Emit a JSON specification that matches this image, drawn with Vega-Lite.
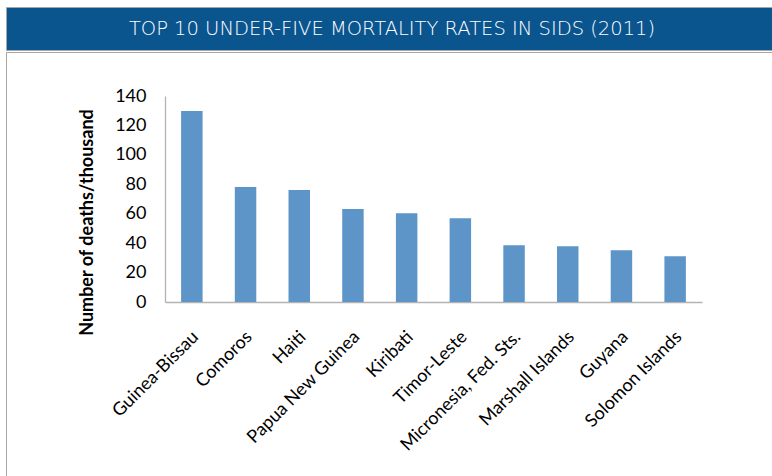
{
  "$schema": "https://vega.github.io/schema/vega-lite/v6.json",
  "autosize": {"type": "none"},
  "padding": {"left": 6, "top": 7, "right": 766, "bottom": 469},
  "background": "white",
  "spacing": 0,
  "config": {"font": "Lato", "concat": {"spacing": 0}},
  "vconcat": [
    {
      "width": 772,
      "height": 43,
      "view": {"fill": "#0b558f", "stroke": "#a6a6a6", "strokeWidth": 1},
      "data": {"values": [{"title": "TOP 10 UNDER-FIVE MORTALITY RATES IN SIDS (2011)"}]},
      "mark": {"type": "text", "color": "white", "font": "DejaVu Sans", "fontWeight": 300, "fontSize": 19.5},
      "encoding": {"text": {"field": "title", "type": "nominal"}}
    },
    {
      "width": 772,
      "height": 430,
      "view": {"stroke": "#a6a6a6", "strokeWidth": 1},
      "data": {
        "values": [
          {"country": "Guinea-Bissau", "rate": 129.8},
          {"country": "Comoros", "rate": 78.2},
          {"country": "Haiti", "rate": 76.1},
          {"country": "Papua New Guinea", "rate": 63.2},
          {"country": "Kiribati", "rate": 60.3},
          {"country": "Timor-Leste", "rate": 56.9},
          {"country": "Micronesia, Fed. Sts.", "rate": 38.5},
          {"country": "Marshall Islands", "rate": 37.9},
          {"country": "Guyana", "rate": 35.1},
          {"country": "Solomon Islands", "rate": 31.1}
        ]
      },
      "mark": {"type": "bar", "color": "#5e95c9"},
      "encoding": {
        "x": {
          "field": "country",
          "type": "nominal",
          "sort": null,
          "scale": {"range": [159, 696], "paddingInner": 0.6, "paddingOuter": 0.3},
          "axis": {
            "title": null,
            "labelAngle": -45,
            "labelAlign": "right",
            "labelBaseline": "middle",
            "labelFont": "Lato",
            "labelFontSize": 18,
            "labelColor": "#000000",
            "labelPadding": 32,
            "labelOffset": 4,
            "labelLimit": 400,
            "ticks": false,
            "domainColor": "#b3b3b3",
            "domainWidth": 1.5,
            "offset": -180
          }
        },
        "y": {
          "field": "rate",
          "type": "quantitative",
          "scale": {"domain": [0, 140], "range": [250, 44], "nice": false},
          "axis": {
            "title": "Number of deaths/thousand",
            "titleFont": "Lato",
            "titleFontWeight": "bold",
            "titleFontSize": 18,
            "titleColor": "#000000",
            "titleX": -69,
            "titleY": 170,
            "values": [0, 20, 40, 60, 80, 100, 120, 140],
            "labelFont": "Lato",
            "labelFontSize": 18,
            "labelColor": "#000000",
            "labelPadding": 19,
            "ticks": false,
            "grid": false,
            "domainColor": "#b3b3b3",
            "domainWidth": 1.3,
            "offset": -159
          }
        }
      }
    }
  ]
}
